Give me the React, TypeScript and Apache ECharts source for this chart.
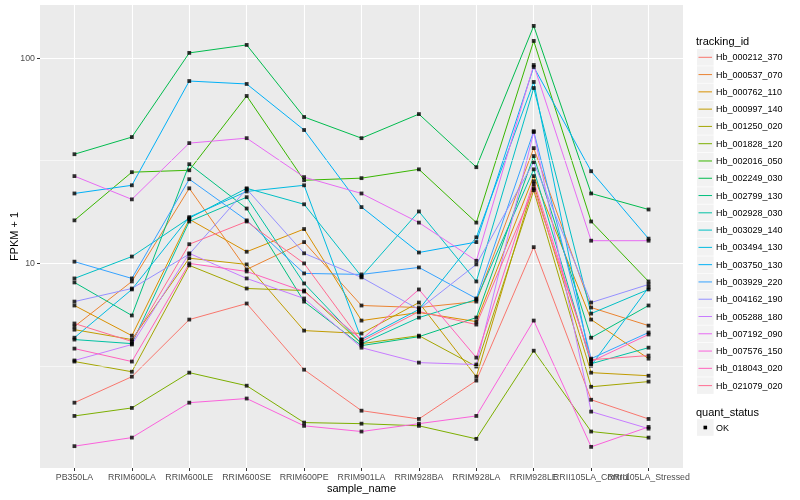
import React, { useEffect, useRef } from "react";
import * as echarts from "echarts";

const categories = [
  "PB350LA", "RRIM600LA", "RRIM600LE", "RRIM600SE", "RRIM600PE", "RRIM901LA",
  "RRIM928BA", "RRIM928LA", "RRIM928LE", "RRII105LA_Control", "RRII105LA_Stressed",
];

const trackingIds = [
  "Hb_000212_370", "Hb_000537_070", "Hb_000762_110", "Hb_000997_140", "Hb_001250_020",
  "Hb_001828_120", "Hb_002016_050", "Hb_002249_030", "Hb_002799_130", "Hb_002928_030",
  "Hb_003029_140", "Hb_003494_130", "Hb_003750_130", "Hb_003929_220", "Hb_004162_190",
  "Hb_005288_180", "Hb_007192_090", "Hb_007576_150", "Hb_018043_020", "Hb_021079_020",
];

const seriesColors = [
  "#F8766D", "#EA8331", "#D89000", "#C09B00", "#A3A500", "#7CAE00", "#39B600", "#00BB4E",
  "#00BF7D", "#00C1A3", "#00BFC4", "#00BAE0", "#00B0F6", "#35A2FF", "#9590FF", "#C77CFF",
  "#E76BF3", "#FA62DB", "#FF62BC", "#FF6C91",
];

const yTicks = [10, 100];
const yMinorTicks = [3.162, 31.62];
const yRange = [1.01, 181];
const xRange = [-0.6, 10.6];

const hb000212 = [2.10, 2.81, 5.33, 6.38, 3.04, 1.92, 1.75, 2.69, 12.0, 2.17, 1.75];
const hb000537 = [4.93, 8.17, 23.2, 9.35, 12.7, 6.24, 6.10, 6.52, 36.4, 6.10, 4.98];
const hb000762 = [6.24, 4.45, 16.4, 11.4, 14.7, 5.27, 5.77, 5.21, 26.6, 5.33, 3.44];
const hb000997 = [4.76, 4.26, 10.6, 9.89, 4.71, 4.56, 6.45, 2.81, 24.3, 2.94, 2.84];
const hb001250 = [3.33, 2.97, 9.78, 7.55, 7.38, 4.07, 4.45, 3.15, 22.7, 2.51, 2.66];
const hb001828 = [1.81, 1.98, 2.94, 2.54, 1.68, 1.66, 1.62, 1.40, 3.76, 1.52, 1.42];
const hb002016 = [16.2, 27.8, 28.4, 65.3, 25.4, 26.0, 28.7, 15.8, 121, 16.0, 8.17];
const hb002249 = [34.0, 41.2, 105.8, 115.7, 51.6, 40.7, 53.3, 29.4, 143.2, 21.9, 18.3];
const hb002799 = [8.08, 5.58, 30.4, 18.5, 6.52, 3.98, 4.40, 5.45, 33.3, 4.35, 6.24];
const hb002928 = [4.26, 4.07, 16.0, 21.0, 7.99, 4.07, 5.45, 6.67, 28.7, 3.25, 3.89];
const hb003029 = [8.45, 10.8, 16.6, 23.2, 19.4, 8.64, 17.9, 8.17, 71.4, 5.70, 7.47];
const hb003494 = [4.35, 7.47, 16.8, 22.4, 24.0, 4.26, 5.97, 13.4, 76.4, 3.18, 7.64];
const hb003750 = [21.9, 24.0, 77.2, 74.7, 44.6, 18.8, 11.3, 12.7, 90.4, 28.1, 13.2];
const hb003929 = [10.2, 8.45, 25.7, 16.2, 8.94, 8.84, 9.56, 6.75, 44.0, 3.44, 4.61];
const hb004162 = [6.52, 7.55, 11.1, 23.0, 11.2, 8.55, 5.97, 9.89, 31.1, 6.45, 7.90];
const hb005288 = [3.37, 4.03, 11.2, 8.45, 6.75, 3.89, 3.29, 3.22, 43.6, 1.90, 1.57];
const hb007192 = [26.6, 20.5, 38.5, 40.7, 26.3, 21.9, 15.8, 10.3, 92.4, 12.9, 12.9];
const hb007576 = [1.29, 1.42, 2.10, 2.20, 1.62, 1.52, 1.66, 1.81, 5.27, 1.28, 1.60];
const hb018043 = [3.85, 3.33, 10.0, 9.14, 7.30, 4.26, 7.47, 3.48, 25.1, 3.33, 4.51];
const hb021079 = [5.10, 4.17, 12.4, 16.0, 10.0, 4.17, 5.83, 5.04, 23.2, 3.40, 3.56];

const seriesValues = [
  hb000212, hb000537, hb000762, hb000997, hb001250, hb001828, hb002016, hb002249, hb002799, hb002928,
  hb003029, hb003494, hb003750, hb003929, hb004162, hb005288, hb007192, hb007576, hb018043, hb021079,
];

const quantStatus = ["OK"];

const FONT = "'Liberation Sans', Arial, Helvetica, sans-serif";

export default function App() {
  const ref = useRef<HTMLDivElement>(null);

  useEffect(() => {
    if (!ref.current) return;
    const chart = echarts.init(ref.current, null, { renderer: "svg" });

    const catIndex = categories.map((_, j) => j);
    const evenIndex = catIndex.filter((j) => j % 2 === 0);
    const oddIndex = catIndex.filter((j) => j % 2 === 1);

    const lineSeries: any[] = seriesValues.map((vals, i) => ({
      type: "line",
      name: trackingIds[i],
      data: vals.map((v, j) => [catIndex[j], v]),
      showSymbol: false,
      symbol: "none",
      silent: true,
      z: 2,
      xAxisIndex: 0,
      lineStyle: { color: seriesColors[i], width: 1 },
      itemStyle: { color: seriesColors[i] },
    }));

    const points: any[] = [];
    seriesValues.forEach((vals) => vals.forEach((v, j) => points.push([catIndex[j], v])));

    const legendEls: any[] = [];
    const lx = 697;
    const titleY = 41;
    const firstY = 57.3;
    const step = 17.28;
    legendEls.push({
      type: "text",
      style: { text: "tracking_id", x: 696, y: titleY, fill: "#000", fontSize: 11, fontFamily: FONT, verticalAlign: "middle" },
    });
    trackingIds.forEach((id, i) => {
      const cy = firstY + i * step;
      legendEls.push({
        type: "rect",
        shape: { x: lx, y: cy - 8.3, width: 16.6, height: 16.6 },
        style: { fill: "#F2F2F2" },
      });
      legendEls.push({
        type: "line",
        shape: { x1: lx + 1.5, y1: cy, x2: lx + 15, y2: cy },
        style: { stroke: seriesColors[i], lineWidth: 1 },
      });
      legendEls.push({
        type: "text",
        style: { text: id, x: 716, y: cy, fill: "#000", fontSize: 9, fontFamily: FONT, verticalAlign: "middle" },
      });
    });
    const qTitleY = 412;
    legendEls.push({
      type: "text",
      style: { text: "quant_status", x: 696, y: qTitleY, fill: "#000", fontSize: 11, fontFamily: FONT, verticalAlign: "middle" },
    });
    quantStatus.forEach((q, i) => {
      const cy = 427.5 + i * step;
      legendEls.push({
        type: "rect",
        shape: { x: lx, y: cy - 8.3, width: 16.6, height: 16.6 },
        style: { fill: "#F2F2F2" },
      });
      legendEls.push({
        type: "rect",
        shape: { x: lx + 6.5, y: cy - 1.8, width: 3.6, height: 3.6 },
        style: { fill: "#000" },
      });
      legendEls.push({
        type: "text",
        style: { text: q, x: 716, y: cy, fill: "#000", fontSize: 9, fontFamily: FONT, verticalAlign: "middle" },
      });
    });

    const xLabelStyle = {
      formatter: (v: number) => categories[Math.round(v)] ?? "",
      color: "#4D4D4D",
      fontSize: 8.8,
      margin: 4,
      fontFamily: FONT,
      hideOverlap: false,
      showMinLabel: true,
      showMaxLabel: true,
    };

    chart.setOption({
      animation: false,
      textStyle: { fontFamily: FONT },
      grid: {
        left: 40,
        right: 117,
        top: 5,
        bottom: 32,
        show: true,
        backgroundColor: "#EBEBEB",
        borderWidth: 0,
        containLabel: false,
        outerBoundsMode: "none",
      },
      xAxis: [
        {
          type: "value",
          position: "bottom",
          min: xRange[0],
          max: xRange[1],
          name: "sample_name",
          nameLocation: "middle",
          nameGap: 14,
          nameMoveOverlap: false,
          nameTextStyle: { color: "#000", fontSize: 11, fontFamily: FONT },
          axisLine: { show: false, onZero: false },
          axisTick: { show: true, length: 3, customValues: catIndex, lineStyle: { color: "#333333", width: 1 } },
          axisLabel: { ...xLabelStyle, customValues: evenIndex },
          splitLine: { show: true, lineStyle: { color: "#FFFFFF", width: 1.1 } },
        },
        {
          type: "value",
          position: "bottom",
          offset: 0,
          min: xRange[0],
          max: xRange[1],
          axisLine: { show: false, onZero: false },
          axisTick: { show: false, customValues: oddIndex },
          axisLabel: { ...xLabelStyle, customValues: oddIndex },
          splitLine: { show: false },
        },
      ],
      yAxis: {
        type: "log",
        logBase: 10,
        min: yRange[0],
        max: yRange[1],
        name: "FPKM + 1",
        nameLocation: "middle",
        nameGap: 21,
        nameMoveOverlap: false,
        nameRotate: 90,
        nameTextStyle: { color: "#000", fontSize: 11, fontFamily: FONT },
        axisLine: { show: false, onZero: false },
        axisTick: { show: true, length: 3, customValues: yTicks, lineStyle: { color: "#333333", width: 1 } },
        axisLabel: {
          customValues: yTicks,
          color: "#4D4D4D",
          fontSize: 8.8,
          margin: 5,
          fontFamily: FONT,
          showMinLabel: true,
          showMaxLabel: true,
        },
        splitLine: { show: true, lineStyle: { color: "#FFFFFF", width: 1.1 } },
        minorSplitLine: { show: false },
      },
      graphic: legendEls,
      series: [
        {
          type: "line",
          name: "minor-grid",
          data: [],
          silent: true,
          z: 1,
          markLine: {
            silent: true,
            symbol: "none",
            animation: false,
            label: { show: false },
            lineStyle: { color: "#FFFFFF", width: 0.55, type: "solid" },
            data: yMinorTicks.map((v) => ({ yAxis: v })),
          },
        },
        ...lineSeries,
        {
          type: "scatter",
          name: "points",
          data: points,
          symbol: "rect",
          symbolSize: 3.8,
          silent: true,
          z: 3,
          itemStyle: { color: "#000000" },
        },
      ],
    });

    return () => chart.dispose();
  }, []);

  return <div ref={ref} style={{ position: "fixed", left: 0, top: 0, width: 800, height: 500 }} />;
}
